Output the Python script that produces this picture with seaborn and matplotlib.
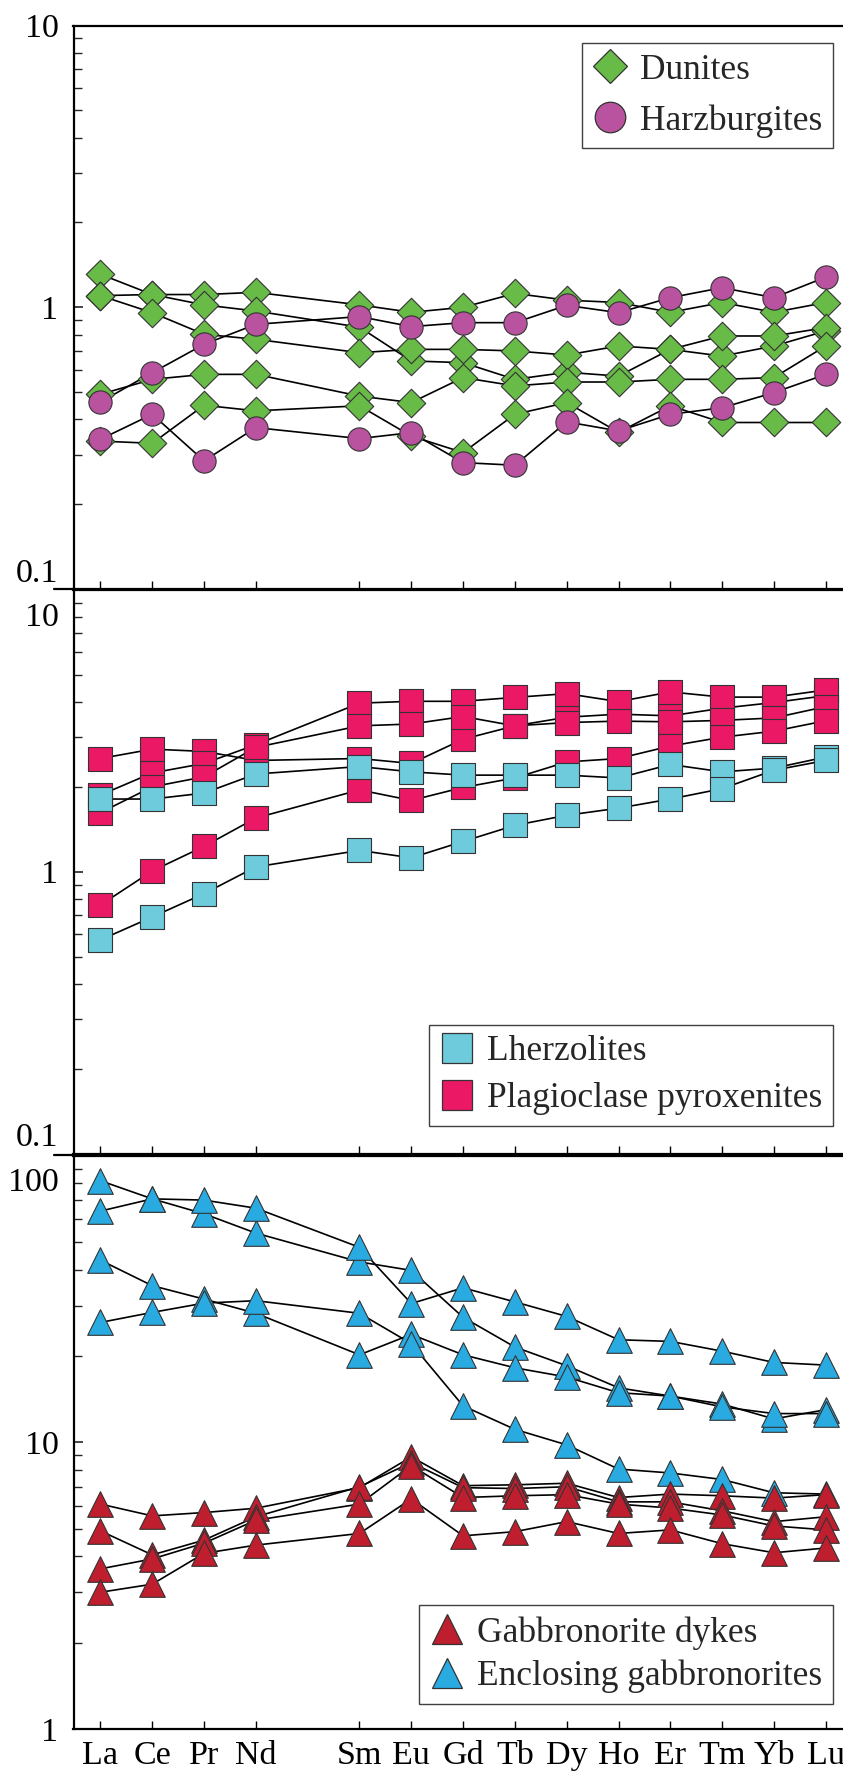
import numpy as np
import pandas as pd
import matplotlib
matplotlib.use("Agg")
import matplotlib.pyplot as plt
import seaborn as sns
from matplotlib.lines import Line2D
from matplotlib.ticker import LogLocator, NullFormatter
from matplotlib.transforms import blended_transform_factory, offset_copy

# ---------------- data ----------------
ELEMENTS = ["La", "Ce", "Pr", "Nd", "Sm", "Eu", "Gd", "Tb", "Dy", "Ho", "Er", "Tm", "Yb", "Lu"]
ATOMIC_NUMBER = [57, 58, 59, 60, 62, 63, 64, 65, 66, 67, 68, 69, 70, 71]

# Panel 1 - Dunites
dunite_1 = [1.31, 1.11, 1.11, 1.13, 1.02, 0.96, 1.00, 1.12, 1.06, 1.04, 0.96, 1.04, 0.96, 1.04]
dunite_2 = [1.10, 1.11, 1.02, 0.97, 0.85, 0.645, 0.636, 0.555, 0.588, 0.570, 0.709, 0.671, 0.729, 0.824]
dunite_3 = [1.10, 0.957, 0.802, 0.770, 0.690, 0.709, 0.709, 0.700, 0.677, 0.729, 0.709, 0.791, 0.791, 0.847]
dunite_4 = [0.491, 0.555, 0.578, 0.578, 0.484, 0.459, 0.563, 0.526, 0.543, 0.543, 0.555, 0.555, 0.563, 0.729]
dunite_5 = [0.335, 0.329, 0.449, 0.429, 0.447, 0.349, 0.305, 0.417, 0.459, 0.360, 0.447, 0.390, 0.390, 0.390]
# Panel 1 - Harzburgites
harz_1 = [0.461, 0.586, 0.739, 0.870, 0.927, 0.854, 0.882, 0.882, 1.016, 0.957, 1.082, 1.174, 1.082, 1.28]
harz_2 = [0.340, 0.417, 0.285, 0.374, 0.342, 0.359, 0.281, 0.275, 0.392, 0.364, 0.417, 0.440, 0.498, 0.578]

# Panel 2 - Lherzolites
lherz_1 = [1.81, 1.81, 1.90, 2.22, 2.36, 2.26, 2.20, 2.20, 2.20, 2.15, 2.40, 2.26, 2.33, 2.55]
lherz_2 = [0.573, 0.691, 0.836, 1.04, 1.19, 1.12, 1.28, 1.46, 1.585, 1.68, 1.81, 1.97, 2.29, 2.48]
# Panel 2 - Plagioclase pyroxenites
plag_1 = [2.52, 2.72, 2.67, 2.48, 2.52, 2.42, 2.95, 3.29, 3.53, 3.62, 3.57, 3.80, 3.98, 4.21]
plag_2 = [1.87, 2.24, 2.42, 2.82, 3.96, 4.02, 4.02, 4.15, 4.28, 4.01, 4.34, 4.16, 4.16, 4.41]
plag_3 = [1.62, 2.00, 2.17, 2.76, 3.29, 3.34, 3.55, 3.29, 3.38, 3.42, 3.40, 3.44, 3.51, 3.85]
plag_4 = [0.762, 1.006, 1.23, 1.55, 1.95, 1.79, 1.99, 2.15, 2.45, 2.52, 2.79, 3.00, 3.15, 3.43]

# Panel 3 - Gabbronorite dykes
dyke_1 = [6.09, 5.54, 5.69, 5.89, 6.95, 8.90, 7.06, 7.11, 7.20, 6.42, 6.60, 6.51, 6.39, 6.57]
dyke_2 = [4.91, 4.05, 4.56, 5.50, 7.00, 8.50, 6.95, 6.90, 7.00, 6.20, 6.20, 5.77, 5.29, 5.50]
dyke_3 = [3.62, 3.92, 4.45, 5.35, 6.09, 8.30, 6.42, 6.51, 6.57, 6.09, 5.90, 5.58, 5.11, 4.95]
dyke_4 = [3.00, 3.20, 4.10, 4.38, 4.81, 6.35, 4.72, 4.88, 5.29, 4.81, 4.95, 4.43, 4.12, 4.28]
# Panel 3 - Enclosing gabbronorites
encl_1 = [81.8, 70.7, 62.7, 53.7, 42.6, 39.8, 27.3, 21.5, 18.5, 15.5, 14.5, 13.6, 12.07, 13.0]
encl_2 = [64.1, 70.7, 70.0, 65.6, 47.9, 30.5, 34.6, 30.9, 27.5, 22.8, 22.5, 20.8, 19.0, 18.6]
encl_3 = [43.2, 35.2, 31.6, 28.2, 20.2, 23.8, 20.2, 18.2, 16.9, 14.9, 14.5, 13.3, 12.6, 12.6]
encl_4 = [26.2, 28.4, 30.6, 31.2, 28.2, 22.1, 13.4, 11.1, 9.8, 8.07, 7.82, 7.42, 6.67, 6.6]

ROCKS = ["Dunites", "Harzburgites", "Lherzolites", "Plagioclase pyroxenites",
         "Gabbronorite dykes", "Enclosing gabbronorites"]
COLORS = ["#69BB47", "#B9539F", "#6DCBDB", "#EB1866", "#BE1E2D", "#29ABE2"]

Y1_TICKS = [0.1, 1, 10]
Y1_LABELS = ["0.1", "1", "10"]
Y3_TICKS = [1, 10, 100]
Y3_LABELS = ["1", "10", "100"]

# ---------------- style ----------------
sns.set_theme(style="ticks")
plt.rcParams["font.family"] = ["Liberation Serif", "DejaVu Serif"]
FS = 24.5      # tick labels
LFS = 25.5     # legend text
EDGE = "0.2"

W, H = 843, 1776
fig = plt.figure(figsize=(W / 100, H / 100), dpi=100)

left = 73.5 / W
width = (852.7 - 73.5) / W
ax1 = fig.add_axes([left, 1 - 589.0 / H, width, (589.0 - 25.6) / H])
ax2 = fig.add_axes([left, 1 - 1153.7 / H, width, (1153.7 - 589.7) / H])
ax3 = fig.add_axes([left, 1 - 1729.0 / H, width, (1729.0 - 1155.7) / H])


def make_df(series, rock):
    rows = []
    for name, vals in series.items():
        for el, z, v in zip(ELEMENTS, ATOMIC_NUMBER, vals):
            rows.append(dict(sample=name, rock=rock, element=el, Z=z, value=v))
    return pd.DataFrame(rows)


panels = [
    dict(ax=ax1, ylim=(0.1, 10), ticks=Y1_TICKS, labels=Y1_LABELS, offs=[19, 0, 0],
         groups=[dict(rock=ROCKS[0], color=COLORS[0], marker="D", s=210, lms=17.5,
                      series=dict(d1=dunite_1, d2=dunite_2, d3=dunite_3, d4=dunite_4, d5=dunite_5)),
                 dict(rock=ROCKS[1], color=COLORS[1], marker="o", s=280, lms=22,
                      series=dict(h1=harz_1, h2=harz_2))],
         legend_order=[0, 1], loc="upper right", anchor_y=43, lsp=0.5, xlabels=False),
    dict(ax=ax2, ylim=(0.1, 10), ticks=Y1_TICKS, labels=Y1_LABELS, offs=[19, 0, -25],
         groups=[dict(rock=ROCKS[3], color=COLORS[3], marker="s", s=280, lms=22,
                      series=dict(p1=plag_1, p2=plag_2, p3=plag_3, p4=plag_4)),
                 dict(rock=ROCKS[2], color=COLORS[2], marker="s", s=280, lms=22,
                      series=dict(l1=lherz_1, l2=lherz_2))],
         legend_order=[1, 0], loc="lower right", anchor_y=1126, lsp=0.4, xlabels=False),
    dict(ax=ax3, ylim=(1, 100), ticks=Y3_TICKS, labels=Y3_LABELS, offs=[0, 0, -24],
         groups=[dict(rock=ROCKS[5], color=COLORS[5], marker="^", s=340, lms=22,
                      series=dict(e1=encl_1, e2=encl_2, e3=encl_3, e4=encl_4)),
                 dict(rock=ROCKS[4], color=COLORS[4], marker="^", s=340, lms=22,
                      series=dict(g1=dyke_1, g2=dyke_2, g3=dyke_3, g4=dyke_4))],
         legend_order=[1, 0], loc="lower right", anchor_y=1704, lsp=0.29, xlabels=True),
]

for p in panels:
    ax = p["ax"]
    df = pd.concat([make_df(g["series"], g["rock"]) for g in p["groups"]], ignore_index=True)
    sns.lineplot(data=df, x="Z", y="value", units="sample", estimator=None, sort=False,
                 color="black", lw=1.2, ax=ax, legend=False, zorder=2)
    for g in p["groups"]:
        sub = df[df["rock"] == g["rock"]]
        sns.scatterplot(data=sub, x="Z", y="value", marker=g["marker"], s=g["s"],
                        color=g["color"], edgecolor=EDGE, linewidth=0.8, ax=ax,
                        legend=False, zorder=3)
    ax.set_yscale("log")
    ax.set_ylim(*p["ylim"])
    ax.set_xlim(ATOMIC_NUMBER[0] - 0.52, ATOMIC_NUMBER[-1] + 0.52)
    ax.set_xlabel("")
    ax.set_ylabel("")
    ax.set_facecolor("white")
    ax.yaxis.set_major_locator(LogLocator(base=10, numticks=10))
    ax.yaxis.set_minor_locator(LogLocator(base=10, subs=np.arange(2, 10), numticks=30))
    ax.yaxis.set_major_formatter(NullFormatter())
    ax.yaxis.set_minor_formatter(NullFormatter())
    ax.tick_params(axis="y", which="major", direction="in", length=6.5, width=1.2, left=True, right=False)
    ax.tick_params(axis="y", which="minor", direction="in", length=6, width=1.0, left=True, right=False)
    ax.set_xticks(ATOMIC_NUMBER)
    ax.tick_params(axis="x", which="both", direction="in", length=5.5, width=1.0,
                   bottom=True, top=False, colors="black")
    if p["xlabels"]:
        ax.set_xticklabels(ELEMENTS, fontsize=FS)
        ax.tick_params(axis="x", pad=8)
    else:
        ax.tick_params(axis="x", labelbottom=False)
    for side in ["left", "bottom", "top"]:
        ax.spines[side].set_visible(True)
        ax.spines[side].set_color("black")
        ax.spines[side].set_linewidth(1.6)
    ax.spines["right"].set_visible(False)

    # y tick labels (boundary labels nudged inside, as in the reference)
    base = blended_transform_factory(ax.transAxes, ax.transData)
    for val, lab, dy in zip(p["ticks"], p["labels"], p["offs"]):
        tr = offset_copy(base, fig=fig, x=-15, y=dy, units="dots")
        ax.text(0, val, lab, transform=tr, ha="right", va="center_baseline",
                fontsize=FS, color="black", clip_on=False)

    handles = []
    for gi in p["legend_order"]:
        g = p["groups"][gi]
        handles.append(Line2D([], [], ls="none", marker=g["marker"], ms=g["lms"],
                              mfc=g["color"], mec=EDGE, mew=0.9, label=g["rock"]))
    leg = ax.legend(handles=handles, loc=p["loc"], bbox_to_anchor=(833 / W, 1 - p["anchor_y"] / H),
                    bbox_transform=fig.transFigure, frameon=True, fancybox=False,
                    edgecolor="0.25", framealpha=1, fontsize=LFS, handlelength=1.0,
                    handletextpad=0.35, borderpad=0.3, labelspacing=p["lsp"], borderaxespad=0)
    leg.get_frame().set_linewidth(1.0)

# short overhangs of the panel boundaries to the left of the y axis
for yb in [589.3, 1154.7]:
    fig.add_artist(Line2D([54 / W, 74 / W], [1 - yb / H] * 2, transform=fig.transFigure,
                          color="black", lw=1.6))

fig.savefig("out.png", dpi=100, facecolor="white")
